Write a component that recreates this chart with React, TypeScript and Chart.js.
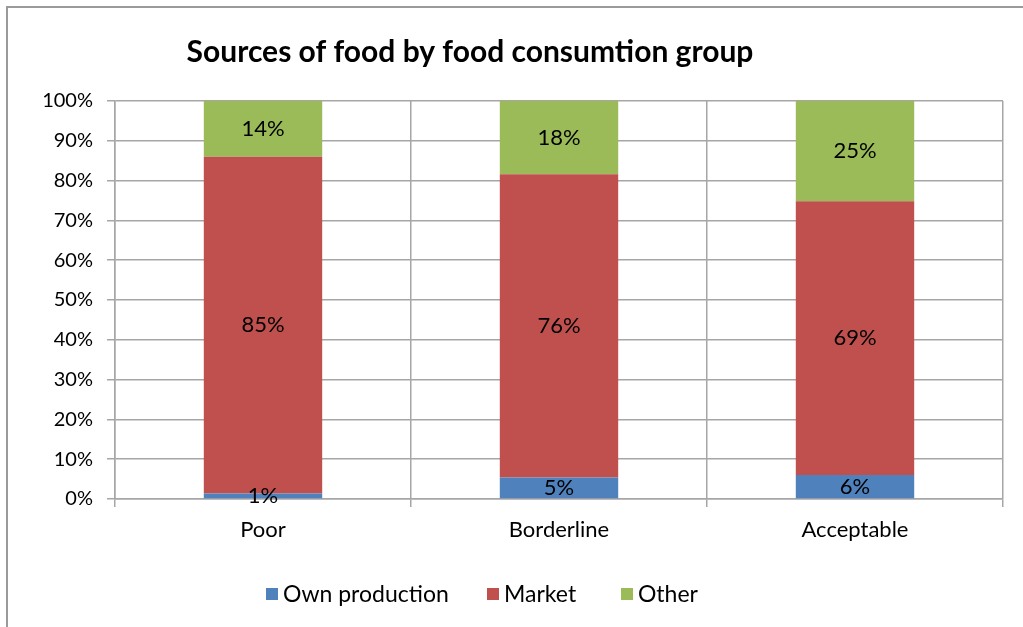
import React, { useEffect, useRef } from "react";
import { Chart, registerables } from "chart.js";

Chart.register(...registerables);

const categories = ["Poor", "Borderline", "Acceptable"];
const ownProduction = [1.4, 5.4, 6.0];
const market = [84.6, 76.2, 68.8];
const other = [14.0, 18.4, 25.2];
const seriesNames = ["Own production", "Market", "Other"];
const seriesColors = ["#4F81BD", "#C0504D", "#9BBB59"];
const yTicks = [0, 10, 20, 30, 40, 50, 60, 70, 80, 90, 100];
const titleText = "Sources of food by food consumtion group";

const FONT = "Lato, 'Open Sans', sans-serif";

const decorPlugin = {
  id: "decor",
  beforeDraw(chart: any) {
    const ctx = chart.ctx;
    ctx.save();
    ctx.fillStyle = "#ffffff";
    ctx.fillRect(0, 0, chart.width, chart.height);
    ctx.strokeStyle = "#9a9a9a";
    ctx.lineWidth = 2;
    ctx.beginPath();
    ctx.moveTo(7, chart.height + 5);
    ctx.lineTo(7, 7);
    ctx.lineTo(chart.width + 5, 7);
    ctx.stroke();
    ctx.restore();
  },
  afterDraw(chart: any) {
    const ctx = chart.ctx;
    ctx.save();
    // Title
    ctx.fillStyle = "#000";
    ctx.font = `bold 30px ${FONT}`;
    ctx.textAlign = "center";
    ctx.textBaseline = "middle";
    ctx.fillText(titleText, 470, 52);
    // Data labels
    ctx.font = `22px ${FONT}`;
    chart.data.datasets.forEach((ds: any, di: number) => {
      const meta = chart.getDatasetMeta(di);
      meta.data.forEach((bar: any, i: number) => {
        const v = ds.data[i];
        const yc = (bar.y + bar.base) / 2;
        ctx.fillText(Math.round(v) + "%", bar.x, yc);
      });
    });
    // Legend
    const legendY = 594;
    const items = [
      { x: 266, tx: 283 },
      { x: 487, tx: 504 },
      { x: 621, tx: 638 },
    ];
    ctx.font = `23px ${FONT}`;
    ctx.textAlign = "left";
    items.forEach((it, i) => {
      ctx.fillStyle = seriesColors[i];
      ctx.fillRect(it.x, legendY - 6, 12, 12);
      ctx.fillStyle = "#000";
      ctx.fillText(seriesNames[i], it.tx, legendY + 1);
    });
    ctx.restore();
  },
};

export default function App() {
  const ref = useRef<HTMLCanvasElement | null>(null);
  useEffect(() => {
    document.body.style.margin = "0";
    const canvas = ref.current!;
    const seriesData = [ownProduction, market, other];
    const chart = new Chart(canvas, {
      type: "bar",
      data: {
        labels: categories,
        datasets: seriesNames.map((name, i) => ({
          label: name,
          data: seriesData[i],
          backgroundColor: seriesColors[i],
          borderWidth: 0,
          categoryPercentage: 0.4,
          barPercentage: 1,
        })),
      },
      options: {
        animation: false,
        responsive: false,
        maintainAspectRatio: false,
        layout: { padding: { top: 101, right: 20, left: 0, bottom: 0 } },
        plugins: {
          legend: { display: false },
          title: { display: false },
          tooltip: { enabled: false },
        },
        scales: {
          x: {
            stacked: true,
            grid: {
              offset: true,
              color: "#a6a6a6",
              lineWidth: 1.5,
              tickLength: 8,
              drawOnChartArea: true,
            },
            border: { color: "#a6a6a6", width: 1.5 },
            ticks: {
              color: "#000",
              font: { family: FONT, size: 22 },
              padding: 10,
            },
            afterFit: (s: any) => {
              s.height = 128;
            },
          },
          y: {
            stacked: true,
            min: 0,
            max: 100,
            afterBuildTicks: (s: any) => {
              s.ticks = yTicks.map((v) => ({ value: v }));
            },
            grid: { color: "#a6a6a6", lineWidth: 1.5, tickLength: 8 },
            border: { color: "#a6a6a6", width: 1.5 },
            ticks: {
              color: "#000",
              font: { family: FONT, size: 20 },
              padding: 14,
              callback: (v: any) => v + "%",
            },
            afterFit: (s: any) => {
              s.width = 115;
            },
          },
        },
      },
      plugins: [decorPlugin],
    });
    return () => chart.destroy();
  }, []);
  return (
    <div style={{ width: 1023, height: 627 }}>
      <canvas ref={ref} width={1023} height={627} style={{ display: "block" }} />
    </div>
  );
}
